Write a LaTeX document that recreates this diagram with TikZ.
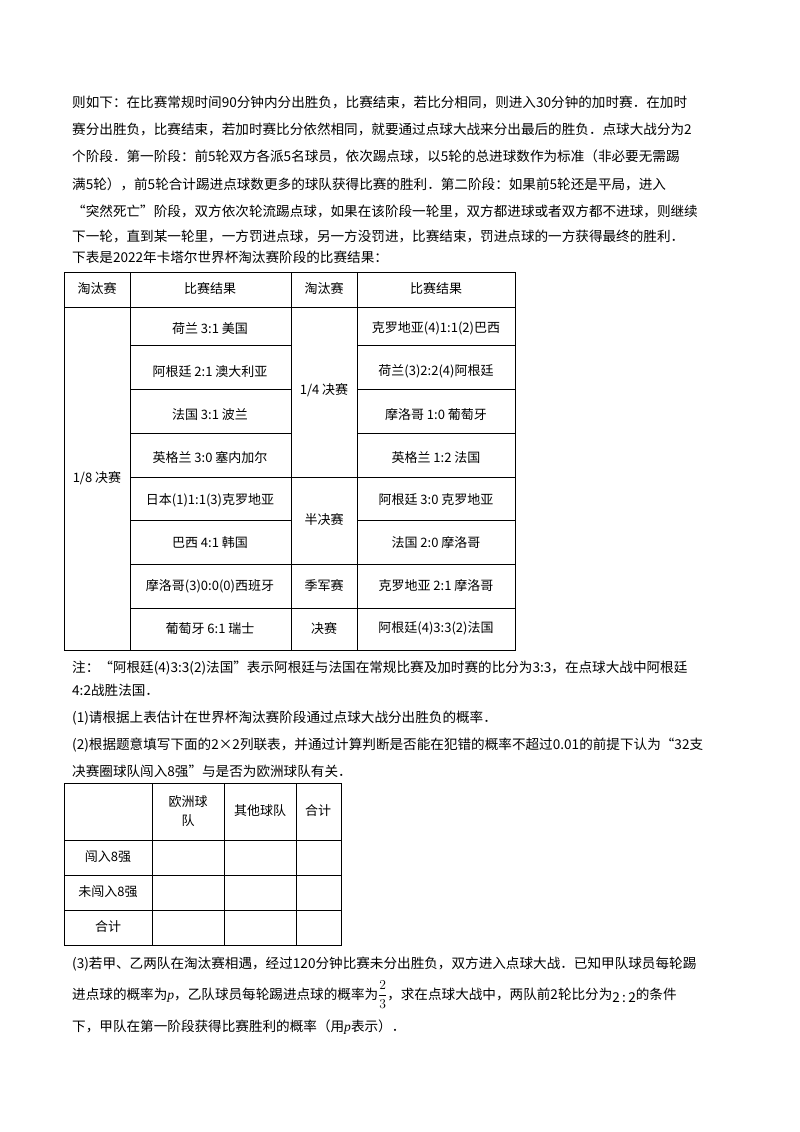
\documentclass[tikz,border=0pt]{standalone}
\usepackage{fix-cm}
\usepackage{amsmath}
\usepackage{fontspec}
\setmainfont{Noto Sans CJK SC}
\newfontfamily\serifit{Liberation Serif}
\begin{document}
\begin{tikzpicture}[x=1pt,y=-1pt,
  txt/.style={anchor=base west,inner sep=0pt,font=\fontsize{13.6}{15}\selectfont},
  cell/.style={inner sep=0pt,font=\fontsize{13}{15}\selectfont},
  grid/.style={line width=0.8pt}]
\useasboundingbox (0,0) rectangle (800,1132);
\fill[white] (0,0) rectangle (800,1132);
% paragraph
\node[txt] (l1) at (72,107) {则如下：在比赛常规时间90分钟内分出胜负，比赛结束，若比分相同，则进入30分钟的加时赛．在加时};
\node[txt] (l2) at (72,134) {赛分出胜负，比赛结束，若加时赛比分依然相同，就要通过点球大战来分出最后的胜负．点球大战分为2};
\node[txt] (l3) at (72,161) {个阶段．第一阶段：前5轮双方各派5名球员，依次踢点球，以5轮的总进球数作为标准（非必要无需踢};
\node[txt] (l4) at (72,189) {满5轮），前5轮合计踢进点球数更多的球队获得比赛的胜利．第二阶段：如果前5轮还是平局，进入};
\node[txt] (l5) at (72,216) {“突然死亡”阶段，双方依次轮流踢点球，如果在该阶段一轮里，双方都进球或者双方都不进球，则继续};
\node[txt] (l6) at (72,241) {下一轮，直到某一轮里，一方罚进点球，另一方没罚进，比赛结束，罚进点球的一方获得最终的胜利．};
\node[txt] (l7) at (72,262) {下表是2022年卡塔尔世界杯淘汰赛阶段的比赛结果：};
% table 1
\draw[grid] (64,272) rectangle (515,650);
\draw[grid] (130,272) -- (130,650) (291,272) -- (291,650) (357,272) -- (357,650);
\draw[grid] (64,307) -- (515,307);
\foreach \y in {345,389,433,477,520,564,608} \draw[grid] (130,\y) -- (291,\y) (357,\y) -- (515,\y);
\foreach \y in {477,564,608} \draw[grid] (291,\y) -- (357,\y);
\node[cell] (h1) at (97,289) {淘汰赛};
\node[cell] (h2) at (210,289) {比赛结果};
\node[cell] (h3) at (324,289) {淘汰赛};
\node[cell] (h4) at (436,289) {比赛结果};
\node[cell] (s1) at (97,478) {1/8 决赛};
\node[cell] (s2) at (324,390) {1/4 决赛};
\node[cell] (s3) at (324,520) {半决赛};
\node[cell] (s4) at (324,586) {季军赛};
\node[cell] (s5) at (324,629) {决赛};
\foreach \t [count=\i] in {荷兰 3:1 美国,阿根廷 2:1 澳大利亚,法国 3:1 波兰,英格兰 3:0 塞内加尔,日本(1)1:1(3)克罗地亚,巴西 4:1 韩国,摩洛哥(3)0:0(0)西班牙,葡萄牙 6:1 瑞士}
  \node[cell] (a\i) at (210,{307+(\i-0.5)*42.9}) {\t};
\foreach \t [count=\i] in {克罗地亚(4)1:1(2)巴西,荷兰(3)2:2(4)阿根廷,摩洛哥 1:0 葡萄牙,英格兰 1:2 法国,阿根廷 3:0 克罗地亚,法国 2:0 摩洛哥,克罗地亚 2:1 摩洛哥,阿根廷(4)3:3(2)法国}
  \node[cell] (b\i) at (436,{307+(\i-0.5)*42.9}) {\t};
% notes
\node[txt] (n1) at (72,672) {注：“阿根廷(4)3:3(2)法国”表示阿根廷与法国在常规比赛及加时赛的比分为3:3，在点球大战中阿根廷};
\node[txt] (n2) at (72,695) {4:2战胜法国．};
\node[txt] (n3) at (72,722) {(1)请根据上表估计在世界杯淘汰赛阶段通过点球大战分出胜负的概率．};
\node[txt] (n4) at (72,749) {(2)根据题意填写下面的2×2列联表，并通过计算判断是否能在犯错的概率不超过0.01的前提下认为“32支};
\node[txt] (n5) at (72,776) {决赛圈球队闯入8强”与是否为欧洲球队有关．};
% table 2
\draw[grid] (64,783) rectangle (341,945);
\draw[grid] (152,783) -- (152,945) (224,783) -- (224,945) (296,783) -- (296,945);
\foreach \y in {840,875,910} \draw[grid] (64,\y) -- (341,\y);
\node[cell,align=center] (c1) at (188,811) {欧洲球\\[4pt]队};
\node[cell] (c2) at (260,811) {其他球队};
\node[cell] (c3) at (318,811) {合计};
\node[cell] (r1) at (108,857) {闯入8强};
\node[cell] (r2) at (108,892) {未闯入8强};
\node[cell] (r3) at (108,927) {合计};
% part 3
\node[txt] (p1) at (72,968) {(3)若甲、乙两队在淘汰赛相遇，经过120分钟比赛未分出胜负，双方进入点球大战．已知甲队球员每轮踢};
\node[txt] (p2) at (72,999) {进点球的概率为{\serifit\itshape p}，乙队球员每轮踢进点球的概率为$\dfrac{2}{3}$，求在点球大战中，两队前2轮比分为\raisebox{-3pt}{2\,:\,2}的条件};
\node[txt] (p3) at (72,1031) {下，甲队在第一阶段获得比赛胜利的概率（用{\serifit\itshape p}表示）．};
\end{tikzpicture}
\end{document}
